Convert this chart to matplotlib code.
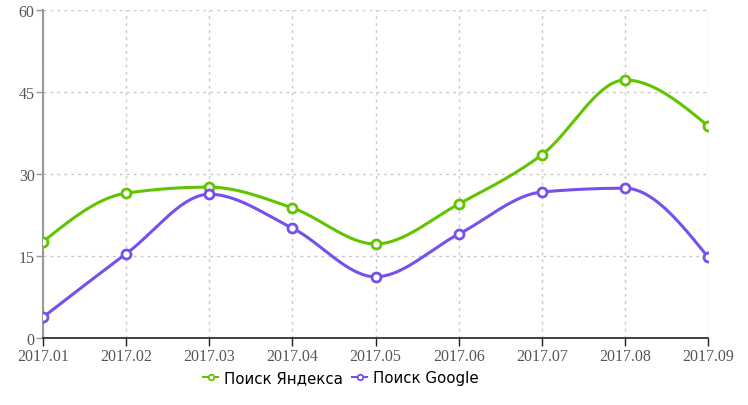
import numpy as np
import matplotlib
matplotlib.use('Agg')
import matplotlib.pyplot as plt

months = ['2017.01', '2017.02', '2017.03', '2017.04', '2017.05',
          '2017.06', '2017.07', '2017.08', '2017.09']
yandex = [17.6, 26.5, 27.6, 23.8, 17.2, 24.5, 33.5, 47.2, 38.8]
google = [3.8, 15.4, 26.3, 20.1, 11.2, 19.0, 26.7, 27.4, 14.8]
yticks = [0, 15, 30, 45, 60]

green = '#62c400'
purple = '#7650ee'


def monotone_x(x, y, n=40):
    # d3 curveMonotoneX style smoothing between the data points
    x = np.asarray(x, float)
    y = np.asarray(y, float)
    h = np.diff(x)
    s = np.diff(y) / h
    t = np.zeros(len(x))
    for i in range(1, len(x) - 1):
        p = (s[i - 1] * h[i] + s[i] * h[i - 1]) / (h[i - 1] + h[i])
        t[i] = (np.sign(s[i - 1]) + np.sign(s[i])) * min(abs(s[i - 1]), abs(s[i]), 0.5 * abs(p))
    t[0] = (3 * s[0] - t[1]) / 2
    t[-1] = (3 * s[-1] - t[-2]) / 2
    xs, ys = [], []
    u = np.linspace(0, 1, n)
    for i in range(len(x) - 1):
        dx = h[i] / 3
        p0 = (x[i], y[i])
        p1 = (x[i] + dx, y[i] + dx * t[i])
        p2 = (x[i + 1] - dx, y[i + 1] - dx * t[i + 1])
        p3 = (x[i + 1], y[i + 1])
        bx = (1 - u) ** 3 * p0[0] + 3 * (1 - u) ** 2 * u * p1[0] + 3 * (1 - u) * u ** 2 * p2[0] + u ** 3 * p3[0]
        by = (1 - u) ** 3 * p0[1] + 3 * (1 - u) ** 2 * u * p1[1] + 3 * (1 - u) * u ** 2 * p2[1] + u ** 3 * p3[1]
        xs.extend(bx)
        ys.extend(by)
    return np.array(xs), np.array(ys)


fig = plt.figure(figsize=(7.48, 4.06), dpi=100)
ax = fig.add_axes([43 / 748, 1 - 339 / 406, 665 / 748, 328 / 406])

xpos = np.arange(len(months))
for vals, col, name in [(yandex, green, 'Поиск Яндекса'), (google, purple, 'Поиск Google')]:
    cx, cy = monotone_x(xpos, vals)
    ax.plot(cx, cy, color=col, lw=2.2, zorder=3, solid_capstyle='round')
    ax.plot(xpos, vals, 'o', ms=6.5, mfc='white', mec=col, mew=2, zorder=4)
    ax.plot([], [], '-o', color=col, lw=1.5, ms=4, mfc='white', mec=col, mew=1.3, label=name)

ax.set_xlim(0, len(months) - 1)
ax.set_ylim(0, 60)
ax.set_xticks(xpos)
ax.set_xticklabels(months)
ax.set_yticks(yticks)
ax.grid(True, color='#c8c8c8', linestyle=(0, (2, 3)), lw=1)
ax.set_axisbelow(True)

for side in ['top', 'right']:
    ax.spines[side].set_visible(False)
ax.spines['left'].set_color('#999999')
ax.spines['left'].set_linewidth(1.5)
ax.spines['bottom'].set_color('#222222')
ax.spines['bottom'].set_linewidth(1.2)
ax.tick_params(axis='y', colors='#999999', length=5, width=1, labelcolor='#555555', pad=1)
ax.tick_params(axis='x', colors='#222222', length=6, width=1, labelcolor='#555555', pad=1)
for lab in ax.get_xticklabels() + ax.get_yticklabels():
    lab.set_family('Liberation Serif')
    lab.set_fontsize(11.5)

leg = ax.legend(loc='center', bbox_to_anchor=(0.448, -0.12), ncol=2, frameon=False,
                handlelength=1.0, handletextpad=0.4, columnspacing=0.6,
                prop={'family': 'DejaVu Sans', 'size': 10.8})

fig.savefig('out.png', dpi=100)
